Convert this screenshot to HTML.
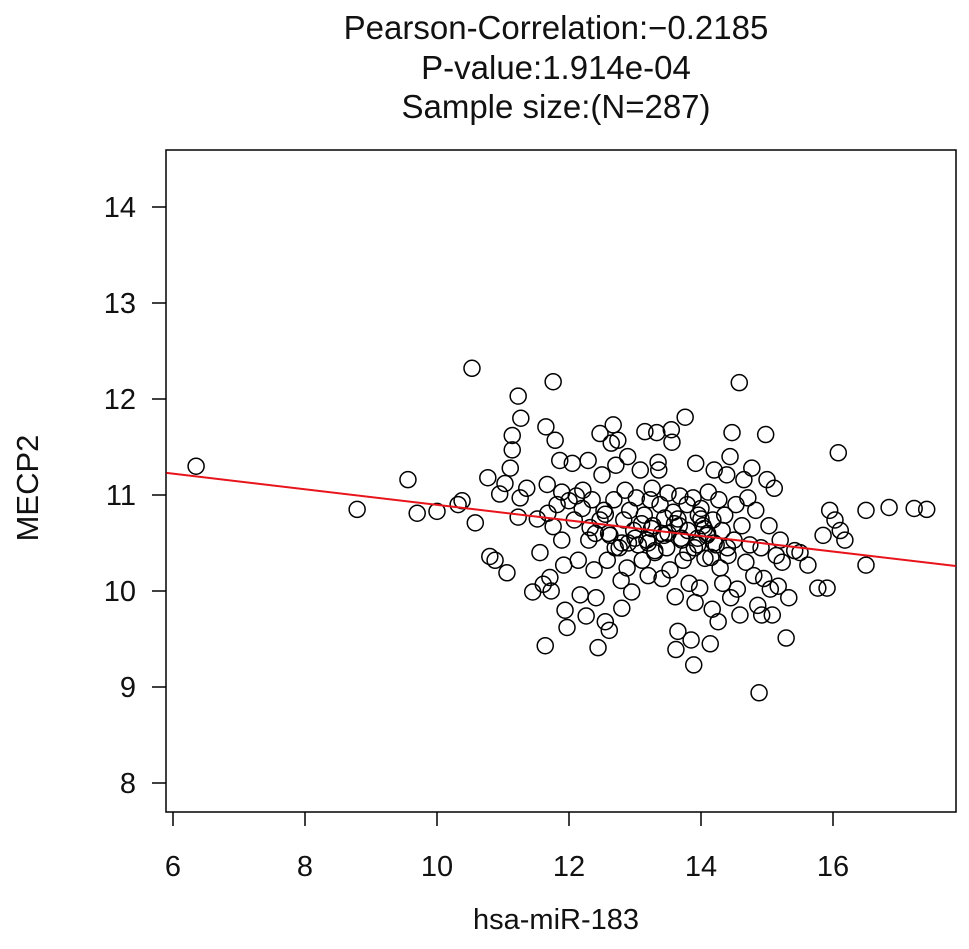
<!DOCTYPE html>
<html><head><meta charset="utf-8"><style>
body{margin:0;background:#fff;}
svg{display:block;font-family:"Liberation Sans",Arial,sans-serif;}
</style></head><body>
<svg id="chart" width="969" height="949" viewBox="0 0 969 949">
<g font-size="33" text-anchor="middle" fill="#111">
<text x="556" y="39">Pearson-Correlation:−0.2185</text>
<text x="556" y="79">P-value:1.914e-04</text>
<text x="556" y="118">Sample size:(N=287)</text>
</g>
<rect x="166" y="150" width="790" height="662" fill="none" stroke="#000" stroke-width="1.5"/>
<g id="xaxis"></g>
<g id="yaxis"></g>
<g id="points"></g>
<g id="fit"></g>
<text x="556" y="929" font-size="29" text-anchor="middle" fill="#111">hsa-miR-183</text>
<text x="0" y="0" font-size="31" text-anchor="middle" fill="#111" transform="translate(38,488) rotate(-90)">MECP2</text>
</svg>
<script>
const xTicks=[6,8,10,12,14,16];
const yTicks=[8,9,10,11,12,13,14];
const fitLine=[[5.9,11.23],[17.86,10.26]];
const xVals=[6.35,8.79,9.56,9.70,10.0,10.32,10.38,10.53,10.58,10.77,10.80,10.88,10.95,11.03,11.06,11.11,11.14,11.14,11.23,11.27,11.23,11.26,11.36,11.45,11.52,11.56,11.61,11.64,11.65,11.67,11.68,11.71,11.73,11.76,11.76,11.79,11.82,11.86,11.89,11.89,11.92,11.94,11.97,12.00,12.05,12.08,12.11,12.14,12.17,12.20,12.21,12.26,12.29,12.30,12.32,12.35,12.38,12.41,12.44,12.47,12.47,12.50,12.53,12.55,12.58,12.61,12.62,12.64,12.67,12.68,12.71,12.74,12.76,12.79,12.80,12.83,12.85,12.88,12.89,12.92,12.95,12.98,13.02,13.05,13.08,13.11,13.14,13.15,13.18,13.20,13.23,13.26,13.27,13.30,13.33,13.35,13.36,13.38,13.41,13.44,13.45,13.48,13.50,13.53,13.55,13.56,13.58,13.61,13.62,13.65,13.67,13.68,13.71,13.73,13.76,13.79,13.80,13.82,13.85,13.88,13.89,13.91,13.92,13.95,13.96,13.98,14.00,14.03,14.06,14.09,14.11,14.14,14.17,14.18,14.20,14.23,14.26,14.27,14.29,14.32,14.33,14.36,14.39,14.41,14.44,14.45,14.47,14.50,14.53,14.55,14.58,14.59,14.62,14.65,14.68,14.71,14.74,14.77,14.80,14.83,14.86,14.88,14.91,14.92,14.95,14.98,15.00,15.03,15.05,15.08,15.11,15.14,15.17,15.20,15.23,15.29,15.33,15.42,15.50,15.62,15.77,15.85,15.91,15.95,16.03,16.08,16.11,16.18,16.50,16.50,16.85,17.23,17.42,
12.6,12.9,13.1,13.3,13.5,13.7,13.9,14.05,14.1,13.2,13.4,12.7,13.6,13.8,14.0,12.4,12.8,13.0,14.2,14.4,13.25,13.65,13.95,12.55,14.15];
const yVals=[11.30,10.85,11.16,10.81,10.83,10.90,10.94,12.32,10.71,11.18,10.36,10.32,11.01,11.12,10.19,11.28,11.47,11.62,12.03,11.80,10.77,10.97,11.07,9.99,10.75,10.40,10.07,9.43,11.71,11.11,10.81,10.14,10.00,10.67,12.18,11.57,10.90,11.36,11.03,10.53,10.27,9.80,9.62,10.94,11.33,10.74,10.99,10.32,9.96,10.86,11.05,9.74,11.36,10.53,10.66,10.95,10.22,9.93,9.41,10.74,11.64,11.21,10.84,9.68,10.32,9.59,10.58,11.54,11.73,10.95,11.31,11.57,10.45,10.11,9.82,10.74,11.05,10.24,11.40,10.84,9.99,10.63,10.97,10.48,11.26,10.32,10.79,11.66,10.53,10.16,10.95,11.07,10.68,10.42,11.65,11.34,11.26,10.90,10.13,10.58,10.76,10.45,11.02,10.22,11.68,11.55,10.82,9.94,9.39,9.58,10.68,10.99,10.53,10.32,11.81,10.90,10.63,10.08,9.49,10.97,9.23,9.88,11.33,10.48,10.79,10.03,10.86,10.68,10.34,10.58,11.03,9.45,9.81,10.74,11.26,10.48,9.68,10.95,10.24,10.63,10.08,10.79,11.21,10.37,11.40,9.93,11.65,10.53,10.90,10.02,12.17,9.75,10.68,11.16,10.30,10.97,10.48,11.28,10.16,10.84,9.85,8.94,10.45,9.75,10.13,11.63,11.16,10.68,10.02,9.75,11.07,10.37,10.05,10.53,10.30,9.51,9.93,10.42,10.40,10.27,10.03,10.58,10.03,10.84,10.74,11.44,10.63,10.53,10.84,10.27,10.87,10.86,10.85,
10.6,10.5,10.7,10.4,10.6,10.55,10.45,10.65,10.6,10.5,10.6,10.45,10.7,10.4,10.75,10.6,10.5,10.55,10.5,10.45,10.65,10.75,10.55,10.8,10.35];
const X=v=>173+(v-6)*66, Y=v=>207+(14-v)*96;
const NS='http://www.w3.org/2000/svg';
function mk(tag,attrs,parent,txt){const e=document.createElementNS(NS,tag);for(const k in attrs)e.setAttribute(k,attrs[k]);if(txt!==undefined)e.textContent=txt;parent.appendChild(e);return e;}
const xa=document.getElementById('xaxis'),ya=document.getElementById('yaxis'),pts=document.getElementById('points'),fit=document.getElementById('fit');
xTicks.forEach(t=>{
 const l=mk('line',{x1:X(t),x2:X(t),y1:812,y2:826,stroke:'#000','stroke-width':1.5},xa);
 
 
 const s=mk('text',{x:X(t),y:876,'font-size':29,'text-anchor':'middle',fill:'#111'},xa,String(t));
 
 
});
yTicks.forEach(t=>{
 const l=mk('line',{x1:152,x2:166,y1:Y(t),y2:Y(t),stroke:'#000','stroke-width':1.5},ya);
 
 
 const s=mk('text',{x:136,y:Y(t)+10,'font-size':29,'text-anchor':'end',fill:'#111'},ya,String(t));
 
 
});
xVals.forEach((v,i)=>{
 const c=mk('circle',{cx:X(v),cy:Y(yVals[i]),r:8,fill:'none',stroke:'#000','stroke-width':1.5},pts);
 
 
});
const fl=mk('line',{x1:X(fitLine[0][0]),y1:Y(fitLine[0][1]),x2:X(fitLine[1][0]),y2:Y(fitLine[1][1]),stroke:'#e8141c','stroke-width':2},fit);


</script>
</body></html>
